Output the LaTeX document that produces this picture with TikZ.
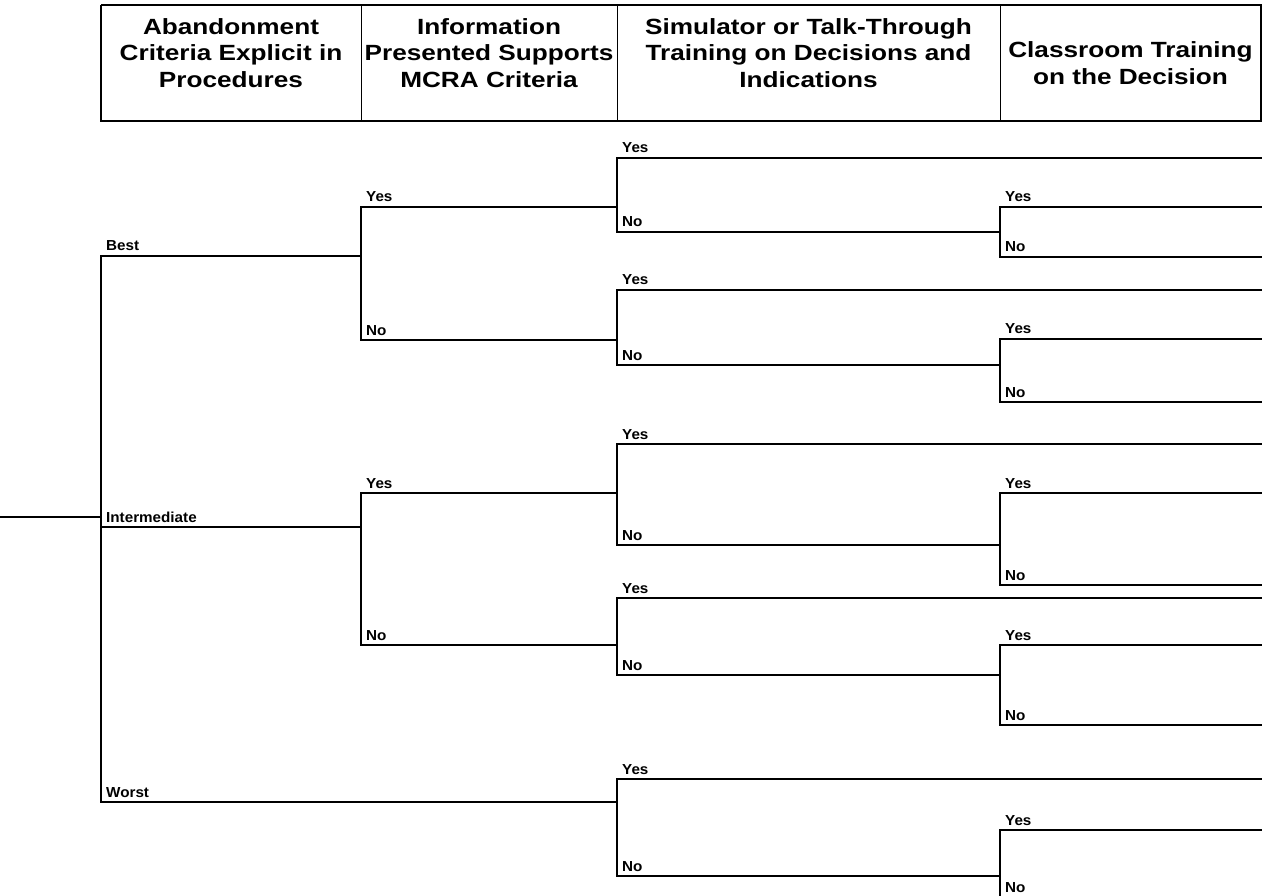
\documentclass[tikz,border=0pt]{standalone}
\usepackage{fontspec}
\setmainfont{Liberation Sans}
\newfontfamily\headfont{Liberation Sans}[FakeStretch=1.19]
\newfontfamily\lblfont{Liberation Sans}[FakeStretch=1.05]
\begin{document}
\begin{tikzpicture}[x=1pt,y=-1pt,
  branch/.style={line width=2pt, line join=miter},
  frame/.style={line width=1.6pt},
  divider/.style={line width=0.9pt},
  lbl/.style={anchor=base west, inner sep=0pt, font=\lblfont\bfseries\fontsize{14.5}{16}\selectfont},
  head/.style={align=center, inner sep=0pt, font=\headfont\bfseries\fontsize{22}{26.5}\selectfont}]
\useasboundingbox (0,0) rectangle (1262,896);

% column headings
\draw[frame] (101,5) -- (1261,5) -- (1261,121);
\draw[frame] (101,5) -- (101,121);
\draw[line width=2.4pt] (100,121) -- (1262,121);
\draw[divider] (361,5) -- (361,121);
\draw[divider] (617,5) -- (617,121);
\draw[divider] (1000,5) -- (1000,121);
\node[head] (h1) at (231,53) {Abandonment\\Criteria Explicit in\\Procedures};
\node[head] (h2) at (489,53) {Information\\Presented Supports\\MCRA Criteria};
\node[head] (h3) at (808.5,53) {Simulator or Talk-Through\\Training on Decisions and\\Indications};
\node[head] (h4) at (1130.5,63) {Classroom Training\\on the Decision};

% first split: abandonment criteria
\coordinate (root) at (0,517);
\coordinate (root-e) at (101,517);
\coordinate (best) at (101,256);
\coordinate (inter) at (101,527);
\coordinate (worst) at (101,802);
\coordinate (best-e) at (361,256);
\coordinate (inter-e) at (361,527);
\coordinate (worst-e) at (617,802);
\draw[branch] (root) -- (root-e);
\draw[branch] (inter) -- (inter-e);
\draw[branch] (best-e) -- (best) -- (worst) -- (worst-e);
\node[lbl] (best-l) at ([shift={(5,-5)}]best) {Best};
\node[lbl] (inter-l) at ([shift={(5,-5)}]inter) {Intermediate};
\node[lbl] (worst-l) at ([shift={(5,-5)}]worst) {Worst};

% yes/no forks: name / fork x / yes y / no y / yes end x / no end x
\foreach \nm/\x/\yy/\yn/\ye/\ne in {
  b/361/207/340/617/617, i/361/493/645/617/617,
  by/617/158/232/1262/1000, bn/617/290/365/1262/1000,
  iy/617/444/545/1262/1000, in/617/598/675/1262/1000,
  w/617/779/876/1262/1000,
  byn/1000/207/257/1262/1262, bnn/1000/339/402/1262/1262,
  iyn/1000/493/585/1262/1262, inn/1000/645/725/1262/1262,
  wn/1000/830/897/1262/1262}
{
  \coordinate (\nm-y) at (\x,\yy);
  \coordinate (\nm-ye) at (\ye,\yy);
  \coordinate (\nm-n) at (\x,\yn);
  \coordinate (\nm-ne) at (\ne,\yn);
  \draw[branch] (\nm-ne) -- (\nm-n) -- (\nm-y) -- (\nm-ye);
  \node[lbl] (\nm-yl) at ([shift={(5,-5)}]\nm-y) {Yes};
  \node[lbl] (\nm-nl) at ([shift={(5,-5)}]\nm-n) {No};
}
\end{tikzpicture}
\end{document}
